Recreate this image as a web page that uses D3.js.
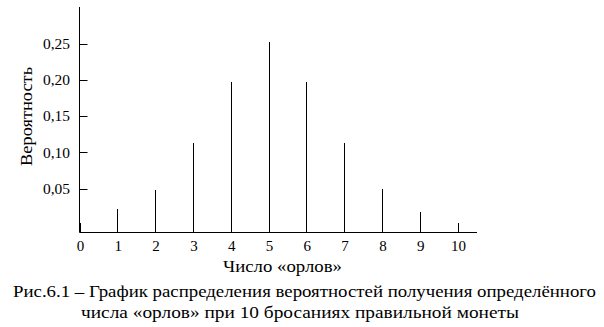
<!DOCTYPE html>
<html>
<head>
<meta charset="utf-8">
<script src="https://cdn.jsdelivr.net/npm/d3@7"></script>
<style>
  body { margin: 0; background: #fff; }
  svg text { font-family: "Liberation Serif", "DejaVu Serif", "Times New Roman", serif; fill: #000; }
</style>
</head>
<body>
<svg id="chart"></svg>
<script>
// Данные: число «орлов» и вероятности
const heads = [0, 1, 2, 3, 4, 5, 6, 7, 8, 9, 10];
const probs = [0.0035, 0.0224, 0.0486, 0.1139, 0.1976, 0.2528, 0.1976, 0.1139, 0.05, 0.0183, 0.003];
const yTicks = [0.05, 0.10, 0.15, 0.20, 0.25];
const yTickLabels = ["0,05", "0,10", "0,15", "0,20", "0,25"];

const xTitle = "Число «орлов»";
const yTitle = "Вероятность";
const caption = [
    "Рис.6.1 – График распределения вероятностей получения определённого",
    "числа «орлов» при 10 бросаниях правильной монеты"
];

const width = 604;
const height = 327;

const svg = d3.select("#chart")
    .attr("width", width)
    .attr("height", height);

const x = d3.scaleLinear().domain([0, 10]).range([80, 458]);
const y = d3.scaleLinear().domain([0, 0.25]).range([225.25, 44]);

const axisX0 = 79.5;   // вертикальная ось
const axisY0 = 232.5;  // горизонтальная ось
const crisp = v => Math.floor(v) + 0.5;

const g = svg.append("g");

// Оси
g.append("line")
    .attr("x1", axisX0).attr("x2", axisX0)
    .attr("y1", 7).attr("y2", axisY0)
    .attr("stroke", "#000").attr("stroke-width", 1);

g.append("line")
    .attr("x1", axisX0).attr("x2", 477)
    .attr("y1", axisY0).attr("y2", axisY0)
    .attr("stroke", "#000").attr("stroke-width", 1);

// Деления оси Y (внутрь)
g.selectAll("line.ytick")
    .data(yTicks)
    .enter().append("line")
    .attr("class", "ytick")
    .attr("x1", axisX0).attr("x2", axisX0 + 8)
    .attr("y1", d => crisp(y(d))).attr("y2", d => crisp(y(d)))
    .attr("stroke", "#000").attr("stroke-width", 1);

g.selectAll("text.ylabel")
    .data(yTicks)
    .enter().append("text")
    .attr("class", "ylabel")
    .attr("x", 70)
    .attr("y", d => y(d))
    .attr("dy", "0.33em")
    .attr("text-anchor", "end")
    .attr("font-size", 15)
    .attr("textLength", 27)
    .attr("lengthAdjust", "spacingAndGlyphs")
    .text((d, i) => yTickLabels[i]);

// Столбики
g.selectAll("line.bar")
    .data(heads)
    .enter().append("line")
    .attr("class", "bar")
    .attr("x1", d => crisp(x(d))).attr("x2", d => crisp(x(d)))
    .attr("y1", (d, i) => Math.round(y(probs[i])))
    .attr("y2", axisY0)
    .attr("stroke", "#000").attr("stroke-width", 1);

// Подписи оси X
g.selectAll("text.xlabel")
    .data(heads)
    .enter().append("text")
    .attr("class", "xlabel")
    .attr("x", d => x(d) + 0.5)
    .attr("y", 251)
    .attr("text-anchor", "middle")
    .attr("font-size", 15)
    .text(d => d);

// Заголовки осей
svg.append("text")
    .attr("x", 282.5)
    .attr("y", 272)
    .attr("text-anchor", "middle")
    .attr("font-size", 17)
    .attr("textLength", 119)
    .attr("lengthAdjust", "spacingAndGlyphs")
    .text(xTitle);

svg.append("text")
    .attr("transform", "translate(32,116.5) rotate(-90)")
    .attr("text-anchor", "middle")
    .attr("font-size", 17)
    .attr("textLength", 99)
    .attr("lengthAdjust", "spacingAndGlyphs")
    .text(yTitle);

// Подпись рисунка
const captionLen = [583, 438];
svg.selectAll("text.caption")
    .data(caption)
    .enter().append("text")
    .attr("class", "caption")
    .attr("x", (d, i) => i === 0 ? 304.5 : 300)
    .attr("y", (d, i) => 297 + i * 21)
    .attr("text-anchor", "middle")
    .attr("font-size", 17.5)
    .attr("textLength", (d, i) => captionLen[i])
    .attr("lengthAdjust", "spacingAndGlyphs")
    .text(d => d);
</script>
</body>
</html>
